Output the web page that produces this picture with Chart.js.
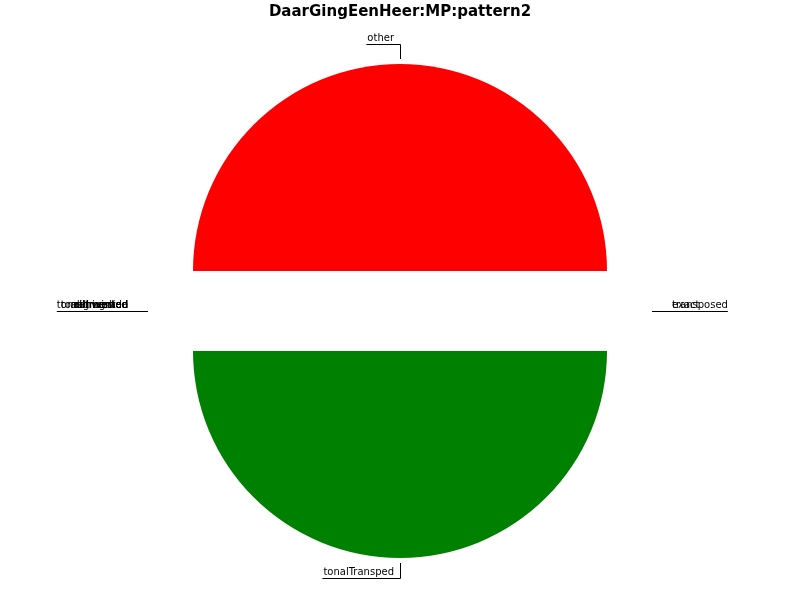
<!DOCTYPE html>
<html>
<head>
<meta charset="utf-8">
<script src="https://cdn.jsdelivr.net/npm/chart.js@4/dist/chart.umd.min.js"></script>
<style>
  html, body { margin: 0; padding: 0; background: #ffffff; }
  #wrap { width: 800px; height: 600px; }
</style>
</head>
<body>
<div id="wrap"><canvas id="c" width="800" height="600"></canvas></div>
<script>
// Data (ordered clockwise from 3 o'clock, as Chart.js draws)
const chartTitle = "DaarGingEenHeer:MP:pattern2";
const categories = ["exact", "transposed", "tonalTransped", "inverted", "retrograde", "augmented", "diminished", "tonalInverted", "tonalInversion", "other"];
const counts = [0, 0, 1, 0, 0, 0, 0, 0, 0, 1];
const sliceColors = ["#0000ff", "#ffa500", "#008000", "#00bfbf", "#bf00bf", "#bfbf00", "#000000", "#808080", "#a52a2a", "#ff0000"];
const explodeSlices = ["tonalTransped", "other"];

const EXPLODE_SHIFT = 40;

// Explode: shift whole slices outward along their mid-angle (keeps straight edges)
const explodePlugin = {
  id: 'explode',
  beforeDatasetsDraw(chart) {
    const meta = chart.getDatasetMeta(0);
    const labels = chart.data.labels;
    meta.data.forEach((arc, i) => {
      if (!explodeSlices.includes(labels[i]) || arc._exploded) return;
      const orig = arc.draw;
      arc._exploded = true;
      arc.draw = function (ctx, area) {
        const mid = (this.startAngle + this.endAngle) / 2;
        ctx.save();
        ctx.translate(Math.cos(mid) * EXPLODE_SHIFT, Math.sin(mid) * EXPLODE_SHIFT);
        orig.call(this, ctx, area);
        ctx.restore();
      };
    });
  }
};

const leaderPlugin = {
  id: 'leaders',
  afterDatasetsDraw(chart) {
    const ctx = chart.ctx;
    const meta = chart.getDatasetMeta(0);
    const labels = chart.data.labels;
    ctx.save();
    ctx.font = '10px "DejaVu Sans"';
    ctx.fillStyle = '#000';
    ctx.strokeStyle = '#000';
    ctx.lineWidth = 1;
    ctx.textBaseline = 'bottom';
    meta.data.forEach((arc, i) => {
      const p = arc.getProps(['x', 'y', 'startAngle', 'endAngle', 'outerRadius'], true);
      const mid = (p.startAngle + p.endAngle) / 2;
      const c = Math.cos(mid), s = Math.sin(mid);
      const rDrawn = p.outerRadius + EXPLODE_SHIFT;
      const r1 = rDrawn + 5, r2 = rDrawn + 20;
      const x1 = p.x + r1 * c, y1 = p.y + r1 * s;
      const text = labels[i];
      const tw = ctx.measureText(text).width;
      ctx.beginPath();
      if (Math.abs(c) < 0.5) {
        const x2 = p.x + r2 * c, y2 = Math.round(p.y + r2 * s) + 0.5;
        ctx.moveTo(Math.round(x1) + 0.5, y1);
        ctx.lineTo(Math.round(x2) + 0.5, y2);
        ctx.lineTo(x2 - 7 - tw, y2);
        ctx.stroke();
        ctx.textAlign = 'right';
        ctx.fillText(text, x2 - 6, y2 - 1);
      } else if (c > 0) {
        const y = Math.round(y1) + 0.5;
        ctx.moveTo(x1, y);
        ctx.lineTo(x1 + 20 + tw, y);
        ctx.stroke();
        ctx.textAlign = 'left';
        ctx.fillText(text, x1 + 20, y - 1);
      } else {
        const y = Math.round(y1) + 0.5;
        ctx.moveTo(x1, y);
        ctx.lineTo(x1 - 20 - tw, y);
        ctx.stroke();
        ctx.textAlign = 'right';
        ctx.fillText(text, x1 - 20, y - 1);
      }
    });
    ctx.restore();
  }
};

new Chart(document.getElementById('c'), {
  type: 'pie',
  data: {
    labels: categories,
    datasets: [{
      data: counts,
      backgroundColor: sliceColors,
      borderWidth: 0,
      clip: false
    }]
  },
  options: {
    responsive: false,
    animation: false,
    rotation: 90,
    radius: 207,
    layout: { padding: 0 },
    plugins: {
      legend: { display: false },
      tooltip: { enabled: false },
      title: {
        display: true,
        text: chartTitle,
        color: '#000',
        font: { family: '"DejaVu Sans"', size: 15, weight: 'bold', lineHeight: 1.2 },
        padding: { top: 3, bottom: 1 }
      }
    }
  },
  plugins: [explodePlugin, leaderPlugin]
});
</script>
</body>
</html>
